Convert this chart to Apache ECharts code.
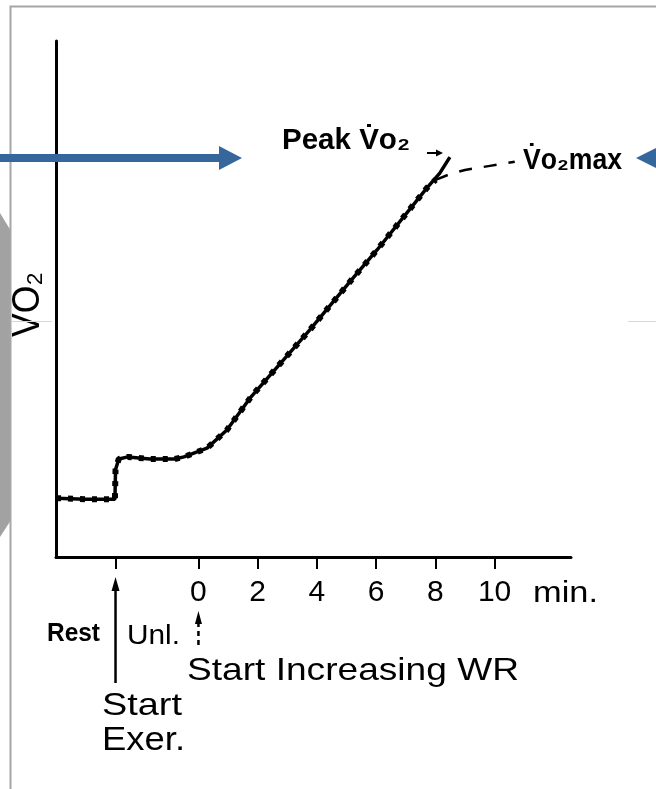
<!DOCTYPE html>
<html>
<head>
<meta charset="utf-8">
<script src="https://cdn.jsdelivr.net/npm/echarts@6/dist/echarts.min.js"></script>
<style>
  html, body { margin: 0; padding: 0; background: #fff; }
  #chart { width: 656px; height: 789px; }
</style>
</head>
<body>
<div id="chart"></div>
<script>
// VO2 response to an incremental (ramp) exercise test.
// Time in minutes, 0 = start of increasing work rate; VO2 in arbitrary units.
const timeMin = [-4.81, -3.83, -2.82, -2.80, -2.69, -2.38, -1.64, -0.80, -0.49, 0.29, 0.96, 1.77, 3.76, 5.11, 6.03, 7.71, 8.15, 8.49];
const vo2     = [11.4, 11.2, 11.2, 16.9, 19.0, 19.4, 19.0, 19.0, 19.4, 21.1, 24.6, 31.0, 44.0, 53.3, 59.5, 71.5, 74.4, 77.5];

// Idealised (dashed) trace that levels off at VO2max
const idealTime = [-4.81, -3.83, -2.82, -2.80, -2.69, -2.38, -1.64, -0.80, -0.49, 0.29, 0.96, 1.77, 3.76, 5.11, 6.03, 7.71, 8.01];
const idealVo2  = [11.4, 11.2, 11.2, 16.9, 19.0, 19.4, 19.0, 19.0, 19.4, 21.1, 24.6, 31.0, 44.0, 53.3, 59.5, 71.5, 73.1];
const plateauTime = [8.01, 8.49, 9.00, 9.84, 10.68];
const plateauVo2  = [73.1, 74.2, 75.0, 75.8, 76.6];

// Axis ticks
const tickMinutes = [0, 2, 4, 6, 8, 10];
const eventMinutes = [-2.8, 0];          // start of exercise, start of increasing WR
const tickValues = [eventMinutes[0]].concat(tickMinutes);

const FONT = "'Liberation Sans', 'DejaVu Sans', sans-serif";

const pairs = (xs, ys) => xs.map((x, i) => [x, ys[i]]);

const chart = echarts.init(document.getElementById('chart'), null, { renderer: 'canvas' });

chart.setOption({
  animation: false,
  backgroundColor: '#fff',
  grid: { left: 56, right: 85, top: 41, bottom: 232, containLabel: false, outerBoundsMode: 'none' },
  xAxis: {
    type: 'value',
    min: -4.81,
    max: 12.58,
    splitLine: { show: false },
    axisLine: { show: true, onZero: false, lineStyle: { color: '#000', width: 3 } },
    axisTick: { show: true, customValues: tickValues, length: 12, lineStyle: { color: '#000', width: 2 } },
    axisLabel: { show: true, customValues: tickMinutes, color: '#000', fontSize: 30, fontFamily: FONT, margin: 21 }
  },
  yAxis: {
    type: 'value',
    min: 0,
    max: 100,
    splitLine: { show: false },
    axisLine: { show: true, onZero: false, lineStyle: { color: '#000', width: 3 } },
    axisTick: { show: false },
    axisLabel: { show: false }
  },
  series: [
    {
      name: 'VO2',
      type: 'line',
      data: pairs(timeMin, vo2),
      showSymbol: false,
      lineStyle: { color: '#000', width: 3.5 },
      z: 3
    },
    {
      name: 'Idealised VO2',
      type: 'line',
      data: pairs(idealTime, idealVo2),
      showSymbol: false,
      lineStyle: { color: '#000', width: 6, type: [5, 7] },
      z: 4
    },
    {
      name: 'VO2max plateau',
      type: 'line',
      data: pairs(plateauTime, plateauVo2),
      showSymbol: false,
      lineStyle: { color: '#000', width: 2.5, type: [13, 12] },
      z: 4
    }
  ]
});

// Text annotations: each is stretched horizontally to its box
const labels = [
  { text: 'Peak V\u0307o\u2082', left: 282, right: 410, mid: 141, size: 30, weight: 'bold' },
  { text: 'V\u0307o\u2082max', left: 523, right: 622, mid: 160.5, size: 29, weight: 'bold' },
  { text: 'min.', left: 533, right: 598, mid: 594, size: 30 },
  { text: 'Rest', left: 47, right: 100, mid: 634, size: 25, weight: 'bold' },
  { text: 'Unl.', left: 127, right: 180, mid: 636, size: 28 },
  { text: 'Start Increasing WR', left: 187, right: 519, mid: 671.5, size: 32 },
  { text: 'Start', left: 102, right: 182, mid: 706.5, size: 32 },
  { text: 'Exer.', left: 102, right: 185, mid: 740.5, size: 34 }
];

const measureCtx = document.createElement('canvas').getContext('2d');
function textWidth(text, font) {
  measureCtx.font = font;
  return measureCtx.measureText(text).width;
}

const graphics = [];

// Slide frame and side decoration
graphics.push({
  type: 'polygon', z: 50,
  shape: { points: [[0, 213], [11, 231], [11, 520], [0, 537]] },
  style: { fill: '#a2a2a2' }
});
graphics.push({
  type: 'rect', z: 51,
  shape: { x: 10.5, y: 6.5, width: 700, height: 800 },
  style: { fill: null, stroke: '#a6a6a6', lineWidth: 2 }
});
graphics.push({
  type: 'line', z: 51,
  shape: { x1: 11, y1: 321.5, x2: 52, y2: 321.5 },
  style: { stroke: '#d6d6d6', lineWidth: 1 }
});
graphics.push({
  type: 'line', z: 51,
  shape: { x1: 628, y1: 321.5, x2: 656, y2: 321.5 },
  style: { stroke: '#d6d6d6', lineWidth: 1 }
});

// Blue pointer arrows
const BLUE = '#35679c';
graphics.push({
  type: 'polygon', z: 60,
  shape: { points: [[0, 154], [219, 154], [219, 146], [242, 158], [219, 170], [219, 162], [0, 162]] },
  style: { fill: BLUE }
});
graphics.push({
  type: 'polygon', z: 60,
  shape: { points: [[636, 158], [660, 146], [660, 154], [700, 154], [700, 162], [660, 162], [660, 170]] },
  style: { fill: BLUE }
});

// Small pointer from the "Peak" label toward the peak of the trace
graphics.push({
  type: 'line', z: 20,
  shape: { x1: 427, y1: 153, x2: 437, y2: 153 },
  style: { stroke: '#000', lineWidth: 2 }
});
graphics.push({
  type: 'polygon', z: 20,
  shape: { points: [[443, 153], [436, 149.5], [436, 156.5]] },
  style: { fill: '#000' }
});

// Event markers under the time axis
const exStartX = chart.convertToPixel({ xAxisIndex: 0 }, eventMinutes[0]);
const wrStartX = chart.convertToPixel({ xAxisIndex: 0 }, eventMinutes[1]);
graphics.push({
  type: 'line', z: 20,
  shape: { x1: exStartX, y1: 588, x2: exStartX, y2: 683 },
  style: { stroke: '#000', lineWidth: 2.5 }
});
graphics.push({
  type: 'polygon', z: 20,
  shape: { points: [[exStartX, 577], [exStartX - 4, 591], [exStartX + 4, 591]] },
  style: { fill: '#000' }
});
graphics.push({
  type: 'line', z: 20,
  shape: { x1: wrStartX, y1: 622, x2: wrStartX, y2: 648 },
  style: { stroke: '#000', lineWidth: 2.5, lineDash: [5, 4] }
});
graphics.push({
  type: 'polygon', z: 20,
  shape: { points: [[wrStartX, 611], [wrStartX - 3.5, 624], [wrStartX + 3.5, 624]] },
  style: { fill: '#000' }
});

labels.forEach(l => {
  const font = (l.weight || 'normal') + ' ' + l.size + 'px ' + FONT;
  const w = textWidth(l.text, font);
  graphics.push({
    type: 'text', z: 30,
    x: l.left, y: l.mid,
    scaleX: (l.right - l.left) / w,
    style: { text: l.text, font: font, fill: '#000', align: 'left', verticalAlign: 'middle' }
  });
});

// Rotated y-axis title
(function () {
  const font = 'normal 39px ' + FONT;
  const text = 'VO\u2082';
  const w = textWidth(text, font);
  graphics.push({
    type: 'text', z: 30,
    x: 28, y: 337,
    rotation: Math.PI / 2,
    scaleX: 65 / w,
    style: { text: text, font: font, fill: '#000', align: 'left', verticalAlign: 'middle' }
  });
})();

chart.setOption({ graphic: graphics });
</script>
</body>
</html>
